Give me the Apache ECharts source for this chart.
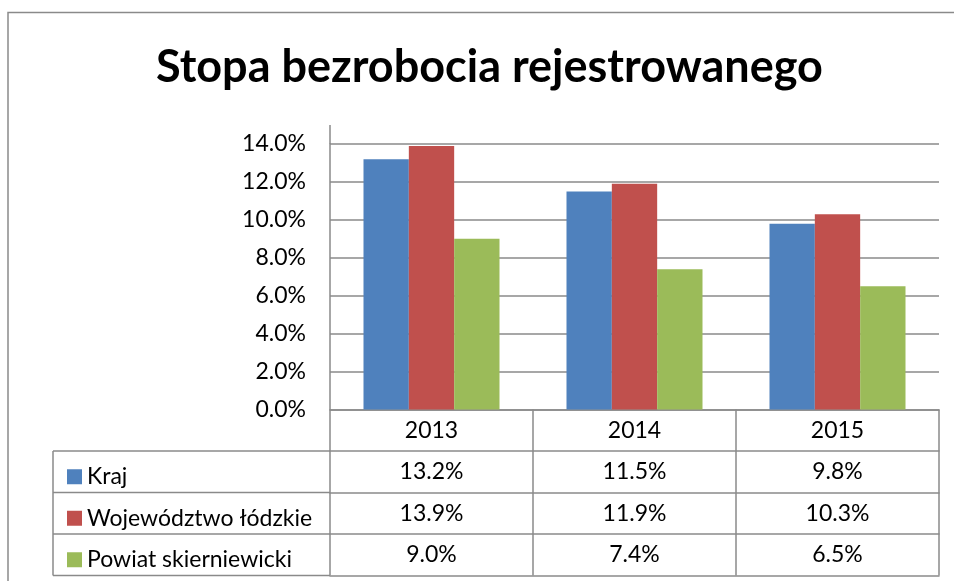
<!DOCTYPE html>
<html>
<head>
<meta charset="utf-8">
<script src="https://cdn.jsdelivr.net/npm/echarts@6/dist/echarts.min.js"></script>
<style>
  html, body { margin: 0; padding: 0; background: #fff; }
  #box { width: 954px; height: 581px; }
</style>
</head>
<body>
<div id="box"></div>
<script>
var title = "Stopa bezrobocia rejestrowanego";
var years = ["2013", "2014", "2015"];
var names = ["Kraj", "Województwo łódzkie", "Powiat skierniewicki"];
var kraj = [13.2, 11.5, 9.8];
var wojewodztwo = [13.9, 11.9, 10.3];
var powiat = [9.0, 7.4, 6.5];
var yTicks = [0, 2, 4, 6, 8, 10, 12, 14];

var values = [kraj, wojewodztwo, powiat];
var colors = ["#4f81bd", "#c0504d", "#9bbb59"];
var gray = "#8a8a8a";
var font = "Lato";
var fs = 23;
var rowH = 41.5;
var gridBottom = 409.5;

function pct(v) {
  return v.toFixed(1) + "%";
}

var myChart = echarts.init(document.getElementById("box"));

// table rows = extra category axes under the grid
var xAxes = [];
for (var i = 0; i <= values.length + 1; i++) {
  var rowData = years;
  var showLabel = true;
  if (i >= 1 && i <= values.length) {
    rowData = values[i - 1].map(pct);
  }
  if (i == values.length + 1) {
    showLabel = false;
  }
  xAxes.push({
    type: "category",
    position: "bottom",
    offset: i * rowH,
    data: rowData,
    axisLine: { show: true, lineStyle: { color: gray, width: 1.5 } },
    axisTick: {
      show: showLabel,
      length: rowH,
      alignWithLabel: false,
      lineStyle: { color: gray, width: 1.5 },
    },
    axisLabel: {
      show: showLabel,
      margin: rowH / 2,
      verticalAlign: "middle",
      fontSize: fs,
      fontFamily: font,
      color: "#000",
    },
  });
}

var series = [];
for (var s = 0; s < names.length; s++) {
  series.push({
    name: names[s],
    type: "bar",
    data: values[s],
    barGap: "0%",
    barCategoryGap: "33%",
    itemStyle: { color: colors[s] },
  });
}

// left column of the table (border lines)
var tableTop = gridBottom + rowH;
var lines = [];
for (var r = 0; r <= values.length; r++) {
  lines.push({
    type: "line",
    shape: { x1: 53, y1: tableTop + r * rowH, x2: 330, y2: tableTop + r * rowH },
    style: { stroke: gray, lineWidth: 1.5 },
  });
}
lines.push({
  type: "line",
  shape: { x1: 53, y1: tableTop, x2: 53, y2: tableTop + values.length * rowH },
  style: { stroke: gray, lineWidth: 1.5 },
});
// outer frame
lines.push({
  type: "polyline",
  shape: { points: [[8, 581], [8, 12.5], [954, 12.5]] },
  style: { stroke: gray, lineWidth: 1.5, fill: null },
});
// y axis runs a bit above the 14% line
lines.push({
  type: "line",
  shape: { x1: 330, y1: 125, x2: 330, y2: 144 },
  style: { stroke: gray, lineWidth: 1.5 },
});

var legendLine = 24;
var option = {
  animation: false,
  title: {
    text: title,
    left: 151,
    top: 40,
    textStyle: { fontSize: 45, fontWeight: "bold", fontFamily: font, color: "#000" },
  },
  legend: {
    data: names,
    orient: "vertical",
    left: 62,
    top: tableTop + (rowH - legendLine) / 2,
    height: 200,
    itemGap: rowH - legendLine,
    itemWidth: 15,
    itemHeight: 15,
    icon: "rect",
    selectedMode: false,
    textStyle: { fontSize: fs, fontFamily: font, color: "#000", lineHeight: legendLine },
  },
  grid: {
    left: 330,
    right: 15,
    top: 144,
    bottom: 581 - gridBottom,
  },
  xAxis: xAxes,
  yAxis: {
    type: "value",
    min: yTicks[0],
    max: yTicks[yTicks.length - 1],
    interval: 2,
    axisLine: { show: true, lineStyle: { color: gray, width: 1.5 } },
    axisTick: { show: false },
    splitLine: { lineStyle: { color: gray, width: 1.5 } },
    axisLabel: {
      margin: 24,
      fontSize: fs,
      fontFamily: font,
      color: "#000",
      formatter: function (v) {
        return pct(v);
      },
    },
  },
  series: series,
  graphic: lines,
};
myChart.setOption(option);
</script>
</body>
</html>
